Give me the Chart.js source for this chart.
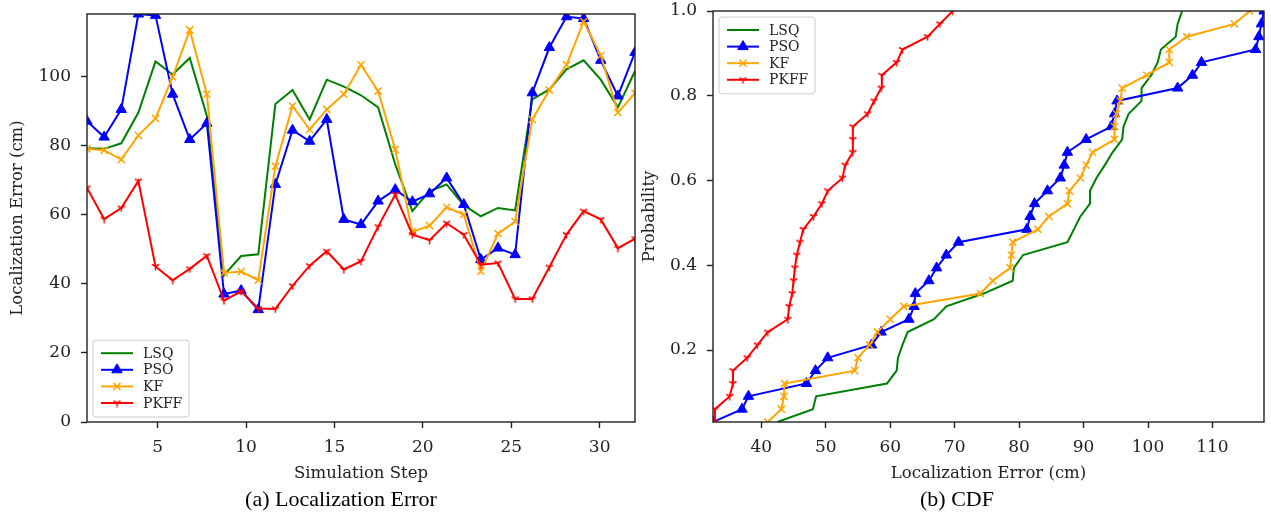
<!DOCTYPE html>
<html>
<head>
<meta charset="utf-8">
<script src="https://cdn.jsdelivr.net/npm/chart.js@4.4.0/dist/chart.umd.min.js"></script>
<style>
  body { margin: 0; background: #fff; width: 1271px; height: 524px; overflow: hidden; position: relative; }
  canvas { position: absolute; top: 0; }
  #errChart { left: 0; }
  #cdfChart { left: 640px; }
  .caption { position: absolute; top: 487px; line-height: 24px; font-size: 22px; font-family: "Liberation Serif", "Times New Roman", serif; color: #000; transform: translateX(-50%); white-space: nowrap; }
</style>
</head>
<body>
<canvas id="errChart" width="660" height="490"></canvas>
<canvas id="cdfChart" width="631" height="490"></canvas>
<div class="caption" style="left:341px">(a) Localization Error</div>
<div class="caption" style="left:957px">(b) CDF</div>
<script>
// simulation steps (33 samples spread over 1..32)
const steps = [1, 1.969, 2.938, 3.906, 4.875, 5.844, 6.813, 7.781, 8.75, 9.719, 10.688,
  11.656, 12.625, 13.594, 14.563, 15.531, 16.5, 17.469, 18.438, 19.406, 20.375,
  21.344, 22.313, 23.281, 24.25, 25.219, 26.188, 27.156, 28.125, 29.094, 30.063, 31.031, 32];

// localization error per step (cm)
const lsq = [79.2, 79.0, 80.6, 89.5, 104.3, 100.5, 105.3, 88.5, 42.5, 48.0, 48.5,
  92.0, 96.0, 87.5, 99.0, 97.0, 94.5, 91.0, 74.5, 61.0, 66.8,
  68.7, 62.7, 59.5, 61.9, 61.2, 93.3, 96.2, 102.0, 104.6, 99.0, 91.0, 101.5];
const pso = [87.0, 82.4, 90.4, 118.0, 117.6, 94.8, 81.7, 86.4, 37.0, 38.0, 32.5,
  68.7, 84.4, 81.2, 87.5, 58.6, 57.1, 63.9, 67.2, 63.7, 66.0,
  70.6, 62.9, 47.0, 50.3, 48.4, 95.2, 108.3, 117.2, 116.7, 104.6, 94.3, 106.9];
const kf = [79.0, 78.6, 75.9, 82.9, 87.8, 99.8, 113.4, 94.8, 43.1, 43.5, 41.0,
  74.0, 91.4, 84.6, 90.4, 94.8, 103.3, 95.7, 78.8, 55.0, 56.8,
  62.1, 60.0, 43.6, 54.5, 58.0, 87.5, 96.0, 103.3, 115.8, 106.0, 89.5, 95.1];
const pkff = [67.7, 58.7, 61.9, 69.7, 45.0, 41.0, 44.3, 48.1, 35.1, 37.8, 32.8,
  32.7, 39.4, 45.2, 49.4, 44.1, 46.5, 56.5, 65.8, 54.2, 52.6,
  57.5, 54.2, 45.5, 46.0, 35.6, 35.6, 44.8, 54.2, 61.0, 58.6, 50.3, 53.0];

const seriesNames = ['LSQ', 'PSO', 'KF', 'PKFF'];
const seriesValues = [lsq, pso, kf, pkff];

// tick labels
const stepTicks = [5, 10, 15, 20, 25, 30];
const errTicks = [0, 20, 40, 60, 80, 100];
const cdfErrTicks = [40, 50, 60, 70, 80, 90, 100, 110];
const probTicks = [0.2, 0.4, 0.6, 0.8, 1.0];

const FONT = 'DejaVu Serif';
const INK = '#222';

// matplotlib style "tri_down" marker
function triDown(color) {
  const c = document.createElement('canvas');
  c.width = 9; c.height = 9;
  const g = c.getContext('2d');
  g.strokeStyle = color;
  g.lineWidth = 1.5;
  g.beginPath();
  g.moveTo(4.5, 4.5); g.lineTo(4.5, 8.5);
  g.moveTo(4.5, 4.5); g.lineTo(1.0, 2.5);
  g.moveTo(4.5, 4.5); g.lineTo(8.0, 2.5);
  g.stroke();
  return c;
}

const styles = {
  LSQ: { color: 'green' },
  PSO: { color: 'blue', pointStyle: 'triangle', radius: 6, bw: 1 },
  KF: { color: 'orange', pointStyle: 'crossRot', radius: 5, bw: 1.5 },
  PKFF: { color: 'red', pointStyle: triDown('red'), radius: 4, bw: 1 },
};

function makeDataset(name, pts, order) {
  const s = styles[name];
  return {
    label: name,
    data: pts,
    order: order,
    borderColor: s.color,
    backgroundColor: s.color,
    borderWidth: 2,
    tension: 0,
    pointStyle: s.pointStyle || false,
    pointRadius: s.radius || 0,
    pointBorderWidth: s.bw || 0,
    pointBorderColor: s.color,
    pointBackgroundColor: s.color,
    clip: 0,
  };
}

function cdf(values) {
  const sorted = [...values].sort((a, b) => a - b);
  return sorted.map((v, i) => ({ x: v, y: (i + 1) / sorted.length }));
}

function drawMarker(ctx, s, x, y) {
  if (!s.pointStyle) return;
  ctx.save();
  ctx.strokeStyle = s.color;
  ctx.fillStyle = s.color;
  ctx.lineWidth = s.bw;
  const r = s.radius;
  if (s.pointStyle === 'triangle') {
    ctx.beginPath();
    ctx.moveTo(x, y - r);
    ctx.lineTo(x + 0.866 * r, y + 0.5 * r);
    ctx.lineTo(x - 0.866 * r, y + 0.5 * r);
    ctx.closePath();
    ctx.fill();
    ctx.stroke();
  } else if (s.pointStyle === 'crossRot') {
    const d = 0.707 * r;
    ctx.beginPath();
    ctx.moveTo(x - d, y - d); ctx.lineTo(x + d, y + d);
    ctx.moveTo(x - d, y + d); ctx.lineTo(x + d, y - d);
    ctx.stroke();
  } else {
    const img = s.pointStyle;
    ctx.drawImage(img, x - img.width / 2, y - img.height / 2);
  }
  ctx.restore();
}

const framePlugin = {
  id: 'frame',
  afterDatasetsDraw(chart) {
    const { ctx, chartArea: a } = chart;
    ctx.save();
    ctx.strokeStyle = INK;
    ctx.lineWidth = 1.4;
    ctx.strokeRect(a.left, a.top, a.right - a.left, a.bottom - a.top);
    ctx.restore();
  }
};

const legendPlugin = {
  id: 'boxLegend',
  afterDraw(chart, args, opts) {
    const { ctx, chartArea: a } = chart;
    const w = 96, rowH = 16.6, h = 13 + rowH * 3 + 14;
    const x = a.left + 6;
    const y = opts.corner === 'lower' ? a.bottom - 5 - h : a.top + 6;
    ctx.save();
    ctx.beginPath();
    ctx.roundRect(x, y, w, h, 3);
    ctx.fillStyle = 'rgba(255,255,255,0.8)';
    ctx.fill();
    ctx.strokeStyle = '#cccccc';
    ctx.lineWidth = 1;
    ctx.stroke();
    seriesNames.forEach((name, i) => {
      const s = styles[name];
      const cy = y + 13 + i * rowH;
      ctx.strokeStyle = s.color;
      ctx.lineWidth = 2;
      ctx.beginPath();
      ctx.moveTo(x + 8, cy);
      ctx.lineTo(x + 40, cy);
      ctx.stroke();
      drawMarker(ctx, s, x + 24, cy);
      ctx.fillStyle = INK;
      ctx.font = '14px "' + FONT + '"';
      ctx.textBaseline = 'middle';
      ctx.fillText(name, x + 50, cy + 1);
    });
    ctx.restore();
  }
};

function axis(o) {
  return {
    type: 'linear',
    bounds: 'data',
    min: o.min,
    max: o.max,
    afterBuildTicks: s => { s.ticks = o.ticks.map(v => ({ value: v })); },
    afterFit: s => {
      if (o.width) s.width = o.width;
      if (o.height) s.height = o.height;
      s.paddingTop = s.paddingBottom = s.paddingLeft = s.paddingRight = 0;
    },
    border: { display: false },
    grid: { drawOnChartArea: false, drawTicks: true, tickLength: 6, tickColor: INK, tickWidth: 1.4 },
    ticks: { padding: o.tickPad, color: INK, font: { family: FONT, size: 17 }, callback: o.fmt || (v => String(v)) },
    title: { display: true, text: o.title, color: INK, font: { family: FONT, size: 16.5 }, padding: o.titlePad },
  };
}

const baseOptions = (padding, corner, scales) => ({
  responsive: false,
  animation: false,
  events: [],
  layout: { padding: padding },
  plugins: { legend: { display: false }, tooltip: { enabled: false }, boxLegend: { corner: corner } },
  scales: scales,
});

const errMax = Math.max(...seriesValues.flat());
const errMin = Math.min(...seriesValues.flat());

new Chart(document.getElementById('errChart'), {
  type: 'line',
  data: {
    datasets: seriesNames.map((name, i) =>
      makeDataset(name, steps.map((s, k) => ({ x: s, y: seriesValues[i][k] })), 4 - i))
  },
  options: baseOptions({ top: 14, right: 25, bottom: 0, left: 0 }, 'lower', {
    x: axis({ min: steps[0], max: steps[steps.length - 1], ticks: stepTicks, height: 68,
      title: 'Simulation Step', titlePad: { bottom: 6 }, tickPad: 9 }),
    y: axis({ min: 0, max: errMax, ticks: errTicks, width: 87,
      title: 'Localization Error (cm)', titlePad: { top: 8 }, tickPad: 10 }),
  }),
  plugins: [framePlugin, legendPlugin]
});

new Chart(document.getElementById('cdfChart'), {
  type: 'line',
  data: {
    datasets: seriesNames.map((name, i) => makeDataset(name, cdf(seriesValues[i]), 4 - i))
  },
  options: baseOptions({ top: 11, right: 6, bottom: 0, left: 0 }, 'upper', {
    x: axis({ min: errMin, max: errMax, ticks: cdfErrTicks, height: 68,
      title: 'Localization Error (cm)', titlePad: { bottom: 6 }, tickPad: 9 }),
    y: axis({ min: 1 / lsq.length, max: 1, ticks: probTicks, width: 73,
      title: 'Probability', titlePad: { top: 0 }, tickPad: 10, fmt: v => v.toFixed(1) }),
  }),
  plugins: [framePlugin, legendPlugin]
});
</script>
</body>
</html>
